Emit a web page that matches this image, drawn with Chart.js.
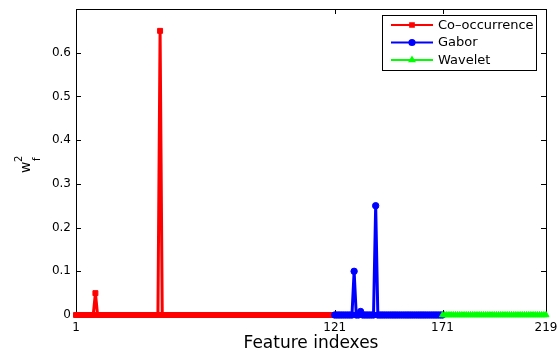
<!DOCTYPE html>
<html>
<head>
<meta charset="utf-8">
<script src="https://cdn.jsdelivr.net/npm/chart.js@4"></script>
<style>
  html, body { margin: 0; padding: 0; background: #fff; }
  #wrap { width: 557px; height: 350px; }
</style>
</head>
<body>
<div id="wrap"><canvas id="myChart" width="557" height="350"></canvas></div>
<script>
// feature index where each group starts
const coStart = 1;
const gaborStart = 121;
const waveletStart = 171;

// w_f^2 per feature, features 1..121
const cooccurrence = [
  0, 0, 0, 0, 0, 0, 0, 0, 0, 0.05,
  0, 0, 0, 0, 0, 0, 0, 0, 0, 0,
  0, 0, 0, 0, 0, 0, 0, 0, 0, 0,
  0, 0, 0, 0, 0, 0, 0, 0, 0, 0.65,
  0, 0, 0, 0, 0, 0, 0, 0, 0, 0,
  0, 0, 0, 0, 0, 0, 0, 0, 0, 0,
  0, 0, 0, 0, 0, 0, 0, 0, 0, 0,
  0, 0, 0, 0, 0, 0, 0, 0, 0, 0,
  0, 0, 0, 0, 0, 0, 0, 0, 0, 0,
  0, 0, 0, 0, 0, 0, 0, 0, 0, 0,
  0, 0, 0, 0, 0, 0, 0, 0, 0, 0,
  0, 0, 0, 0, 0, 0, 0, 0, 0, 0,
  0
];
// features 121..171
const gabor = [
  0, 0, 0, 0, 0, 0, 0, 0, 0, 0.1,
  0, 0, 0.008, 0, 0, 0, 0, 0, 0, 0.25,
  0, 0, 0, 0, 0, 0, 0, 0, 0, 0,
  0, 0, 0, 0, 0, 0, 0, 0, 0, 0,
  0, 0, 0, 0, 0, 0, 0, 0, 0, 0,
  0
];
// features 171..219
const wavelet = [
  0, 0, 0, 0, 0, 0, 0, 0, 0, 0,
  0, 0, 0, 0, 0, 0, 0, 0, 0, 0,
  0, 0, 0, 0, 0, 0, 0, 0, 0, 0,
  0, 0, 0, 0, 0, 0, 0, 0, 0, 0,
  0, 0, 0, 0, 0, 0, 0, 0, 0
];

const xTicks = [1, 121, 171, 219];
const yTicks = [0, 0.1, 0.2, 0.3, 0.4, 0.5, 0.6];
const seriesNames = ['Co\u2013occurrence', 'Gabor', 'Wavelet'];

function toPoints(values, start){
  return values.map((v, i) => ({x: start + i, y: v}));
}

Chart.defaults.font.family = '"DejaVu Sans", sans-serif';
Chart.defaults.color = '#000';

// MATLAB style box with inward ticks, y label and legend
const matlabAxes = {
  id: 'matlabAxes',
  beforeDatasetsDraw(chart){
    const {ctx, chartArea: a, scales} = chart;
    ctx.save();
    ctx.strokeStyle = '#000';
    ctx.lineWidth = 1;
    ctx.strokeRect(Math.round(a.left) + 0.5, Math.round(a.top) + 0.5,
      Math.round(a.right - a.left), Math.round(a.bottom - a.top));
    const tl = 5;
    ctx.beginPath();
    xTicks.forEach(v => {
      const x = Math.round(scales.x.getPixelForValue(v)) + 0.5;
      ctx.moveTo(x, a.bottom); ctx.lineTo(x, a.bottom - tl);
      ctx.moveTo(x, a.top); ctx.lineTo(x, a.top + tl);
    });
    yTicks.forEach(v => {
      const y = Math.round(scales.y.getPixelForValue(v)) + 0.5;
      ctx.moveTo(a.left, y); ctx.lineTo(a.left + tl, y);
      ctx.moveTo(a.right, y); ctx.lineTo(a.right - tl, y);
    });
    ctx.stroke();
    ctx.restore();
  },
  afterDraw(chart){
    const {ctx} = chart;
    ctx.save();
    // y label: w_f^2, rotated
    ctx.translate(30, 173);
    ctx.rotate(-Math.PI / 2);
    ctx.fillStyle = '#000';
    ctx.textAlign = 'left';
    ctx.textBaseline = 'alphabetic';
    ctx.font = '14px "DejaVu Sans"';
    ctx.fillText('w', 0, 0);
    ctx.font = '10px "DejaVu Sans"';
    ctx.fillText('2', 11, -8);
    ctx.fillText('f', 12, 10);
    ctx.restore();

    // legend
    const bx = 382, by = 15, bw = 154, bh = 55;
    ctx.save();
    ctx.fillStyle = '#fff';
    ctx.fillRect(bx, by, bw, bh);
    ctx.strokeStyle = '#000';
    ctx.lineWidth = 1;
    ctx.strokeRect(bx + 0.5, by + 0.5, bw, bh);
    ctx.font = '13px "DejaVu Sans"';
    ctx.textBaseline = 'middle';
    chart.data.datasets.forEach((ds, i) => {
      const y = 25 + i * 17.5;
      ctx.strokeStyle = ds.borderColor;
      ctx.lineWidth = 2;
      ctx.beginPath();
      ctx.moveTo(391, y); ctx.lineTo(433, y);
      ctx.stroke();
      Chart.helpers.drawPoint(ctx, {
        pointStyle: ds.pointStyle, radius: 2.6, borderWidth: 1
      }, 412, y);
      ctx.fillStyle = ds.borderColor;
      ctx.strokeStyle = ds.borderColor;
      ctx.fill();
      ctx.fillStyle = '#000';
      ctx.fillText(ds.label, 438, y + 0.5);
    });
    ctx.restore();
  }
};

const colors = ['#ff0000', '#0000ff', '#00ff00'];
const styles = ['rect', 'circle', 'triangle'];
const radii = [3.5, 3.2, 3.5];
const series = [
  toPoints(cooccurrence, coStart),
  toPoints(gabor, gaborStart),
  toPoints(wavelet, waveletStart)
];

const data = {
  datasets: series.map((pts, i) => ({
    label: seriesNames[i],
    data: pts,
    borderColor: colors[i],
    backgroundColor: colors[i],
    pointBackgroundColor: colors[i],
    pointBorderColor: colors[i],
    pointStyle: styles[i],
    pointRadius: radii[i],
    pointBorderWidth: 1,
    borderWidth: 3,
    tension: 0,
    clip: false,
    order: 3 - i
  }))
};

const config = {
  type: 'line',
  data: data,
  plugins: [matlabAxes],
  options: {
    responsive: false,
    animation: false,
    events: [],
    layout: { padding: { top: 9, right: 11, left: 0, bottom: 0 } },
    plugins: {
      legend: { display: false },
      tooltip: { enabled: false }
    },
    scales: {
      x: {
        type: 'linear',
        min: 1,
        max: 219,
        grid: { display: false, drawTicks: false },
        border: { display: false },
        afterBuildTicks: scale => { scale.ticks = xTicks.map(v => ({value: v})); },
        afterFit: scale => {
          scale.height = 35;
          scale.paddingLeft = 0;
          scale.paddingRight = 0;
        },
        ticks: { font: { size: 12 }, padding: 6, maxRotation: 0, autoSkip: false },
        title: {
          display: true,
          text: 'Feature indexes',
          font: { size: 17, lineHeight: 0.8 },
          padding: { top: 0, bottom: 0 }
        }
      },
      y: {
        min: 0,
        max: 0.7,
        grid: { display: false, drawTicks: false },
        border: { display: false },
        afterBuildTicks: scale => { scale.ticks = yTicks.map(v => ({value: v})); },
        afterFit: scale => {
          scale.width = 76;
          scale.paddingTop = 0;
          scale.paddingBottom = 0;
        },
        ticks: { font: { size: 12 }, padding: 5 }
      }
    }
  }
};

new Chart(document.getElementById('myChart'), config);
</script>
</body>
</html>
